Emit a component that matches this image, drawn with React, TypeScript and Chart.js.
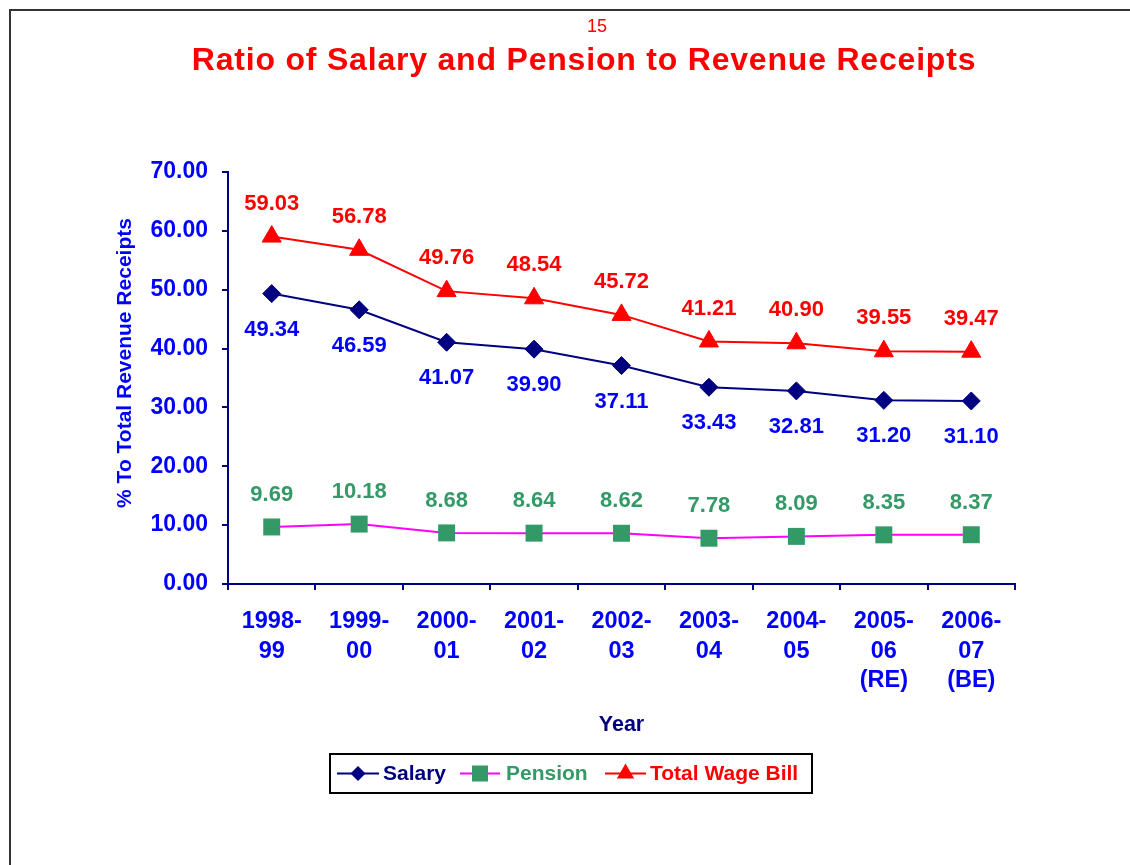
import React, { useEffect, useRef } from "react";
import { Chart, registerables } from "chart.js";

Chart.register(...registerables);

const categories: string[][] = [
  ["1998-", "99"],
  ["1999-", "00"],
  ["2000-", "01"],
  ["2001-", "02"],
  ["2002-", "03"],
  ["2003-", "04"],
  ["2004-", "05"],
  ["2005-", "06", "(RE)"],
  ["2006-", "07", "(BE)"],
];
const salary = [49.34, 46.59, 41.07, 39.9, 37.11, 33.43, 32.81, 31.2, 31.1];
const pension = [9.69, 10.18, 8.68, 8.64, 8.62, 7.78, 8.09, 8.35, 8.37];
const totalWageBill = [59.03, 56.78, 49.76, 48.54, 45.72, 41.21, 40.9, 39.55, 39.47];
const yMin = 0;
const yMax = 70;
const yStep = 10;

const chartTitle = "Ratio of Salary and Pension to Revenue Receipts";
const pageNumber = "15";
const yTitle = "% To Total Revenue Receipts";
const xTitle = "Year";

const FONT = '"Liberation Sans", Arial, Helvetica, sans-serif';
const NAVY = "#000080";
const BLUE = "#0000FF";
const GREEN = "#339966";
const MAGENTA = "#FF00FF";
const RED = "#FF0000";

// label colour / vertical offset for each dataset's value labels
const labelStyles = [
  { color: BLUE, offset: 36 },
  { color: GREEN, offset: -32 },
  { color: RED, offset: -33 },
];

const valueLabelPlugin = {
  id: "valueLabels",
  afterDatasetsDraw(chart: any) {
    const ctx = chart.ctx;
    chart.data.datasets.forEach((ds: any, i: number) => {
      const meta = chart.getDatasetMeta(i);
      const st = labelStyles[i];
      ctx.save();
      ctx.font = `bold 22px ${FONT}`;
      ctx.fillStyle = st.color;
      ctx.textAlign = "center";
      ctx.textBaseline = "middle";
      meta.data.forEach((el: any, j: number) => {
        ctx.fillText(Number(ds.data[j]).toFixed(2), el.x, el.y + st.offset);
      });
      ctx.restore();
    });
  },
};

function drawLegendSymbol(ctx: CanvasRenderingContext2D, ds: any, x0: number, x1: number, y: number) {
  ctx.save();
  ctx.strokeStyle = ds.borderColor;
  ctx.lineWidth = 2;
  ctx.beginPath();
  ctx.moveTo(x0, y);
  ctx.lineTo(x1, y);
  ctx.stroke();
  const cx = (x0 + x1) / 2;
  ctx.fillStyle = ds.pointBackgroundColor;
  ctx.strokeStyle = ds.pointBorderColor;
  ctx.beginPath();
  if (ds.pointStyle === "rectRot") {
    const r = 7.5;
    ctx.moveTo(cx - r, y);
    ctx.lineTo(cx, y - r);
    ctx.lineTo(cx + r, y);
    ctx.lineTo(cx, y + r);
  } else if (ds.pointStyle === "rect") {
    const s = 8;
    ctx.rect(cx - s, y - s, 2 * s, 2 * s);
  } else {
    const r = 10;
    ctx.moveTo(cx, y - r);
    ctx.lineTo(cx + 0.866 * r, y + 0.5 * r);
    ctx.lineTo(cx - 0.866 * r, y + 0.5 * r);
  }
  ctx.closePath();
  ctx.fill();
  ctx.restore();
}

const decorPlugin = {
  id: "decor",
  beforeDraw(chart: any) {
    const ctx = chart.ctx;
    ctx.save();
    ctx.fillStyle = "#ffffff";
    ctx.fillRect(0, 0, chart.width, chart.height);
    // outer frame (left and top edges)
    ctx.strokeStyle = "#333333";
    ctx.lineWidth = 2;
    ctx.beginPath();
    ctx.moveTo(10, chart.height);
    ctx.lineTo(10, 10);
    ctx.lineTo(chart.width, 10);
    ctx.stroke();
    ctx.restore();
  },
  afterDraw(chart: any) {
    const ctx = chart.ctx;
    const area = chart.chartArea;
    ctx.save();
    // page number
    ctx.fillStyle = RED;
    ctx.font = `18px ${FONT}`;
    ctx.textAlign = "center";
    ctx.textBaseline = "alphabetic";
    ctx.fillText(pageNumber, 597, 31.5);
    // title
    ctx.font = `bold 32px ${FONT}`;
    (ctx as any).letterSpacing = "0.8px";
    ctx.fillText(chartTitle, 584, 70);
    (ctx as any).letterSpacing = "0px";
    // y title
    ctx.save();
    ctx.translate(125, 363);
    ctx.rotate(-Math.PI / 2);
    ctx.fillStyle = BLUE;
    ctx.font = `bold 21px ${FONT}`;
    ctx.textBaseline = "middle";
    ctx.fillText(yTitle, 0, 0);
    ctx.restore();
    // x title
    ctx.fillStyle = NAVY;
    ctx.font = `bold 21.5px ${FONT}`;
    ctx.textBaseline = "alphabetic";
    ctx.fillText(xTitle, (area.left + area.right) / 2, 731);
    // legend
    const lx = 330, ly = 754, lw = 482, lh = 39;
    ctx.strokeStyle = "#000000";
    ctx.lineWidth = 2;
    ctx.strokeRect(lx, ly, lw, lh);
    const cy = ly + lh / 2;
    const items = [
      { x0: 337, x1: 379, tx: 383, color: NAVY },
      { x0: 460, x1: 500, tx: 506, color: GREEN },
      { x0: 605, x1: 646, tx: 650, color: RED },
    ];
    ctx.font = `bold 21px ${FONT}`;
    ctx.textAlign = "left";
    ctx.textBaseline = "middle";
    chart.data.datasets.forEach((ds: any, i: number) => {
      const it = items[i];
      drawLegendSymbol(ctx, ds, it.x0, it.x1, cy);
      ctx.fillStyle = it.color;
      ctx.fillText(ds.label, it.tx, cy + 1);
    });
    ctx.restore();
  },
};

export default function App() {
  const canvasRef = useRef<HTMLCanvasElement | null>(null);

  useEffect(() => {
    const canvas = canvasRef.current;
    if (!canvas) return;
    const chart = new Chart(canvas, {
      type: "line",
      data: {
        labels: categories,
        datasets: [
          {
            label: "Salary",
            data: salary,
            borderColor: NAVY,
            backgroundColor: NAVY,
            borderWidth: 2,
            pointStyle: "rectRot",
            pointRadius: 9,
            pointBackgroundColor: NAVY,
            pointBorderColor: NAVY,
            pointBorderWidth: 1,
            tension: 0,
          },
          {
            label: "Pension",
            data: pension,
            borderColor: MAGENTA,
            backgroundColor: GREEN,
            borderWidth: 2,
            pointStyle: "rect",
            pointRadius: 12,
            pointBackgroundColor: GREEN,
            pointBorderColor: GREEN,
            pointBorderWidth: 0,
            tension: 0,
          },
          {
            label: "Total Wage Bill",
            data: totalWageBill,
            borderColor: RED,
            backgroundColor: RED,
            borderWidth: 2,
            pointStyle: "triangle",
            pointRadius: 11,
            pointBackgroundColor: RED,
            pointBorderColor: RED,
            pointBorderWidth: 1,
            tension: 0,
          },
        ],
      },
      options: {
        animation: false,
        responsive: false,
        devicePixelRatio: 1,
        layout: { padding: { left: 0, top: 172, right: 115, bottom: 0 } },
        plugins: {
          legend: { display: false },
          title: { display: false },
          tooltip: { enabled: false },
        },
        scales: {
          x: {
            type: "category",
            offset: true,
            grid: {
              offset: true,
              drawOnChartArea: false,
              drawTicks: true,
              tickLength: 6,
              color: NAVY,
              lineWidth: 2,
            },
            border: { display: true, color: NAVY, width: 2 },
            ticks: {
              autoSkip: false,
              maxRotation: 0,
              minRotation: 0,
              padding: 17,
              color: BLUE,
              font: { family: FONT, size: 23.5, weight: "bold", lineHeight: 29.5 / 23.5 },
            },
            afterFit(scale: any) {
              scale.height = 281;
            },
          },
          y: {
            min: yMin,
            max: yMax,
            grid: {
              drawOnChartArea: false,
              drawTicks: true,
              tickLength: 6,
              color: NAVY,
              lineWidth: 2,
            },
            border: { display: true, color: NAVY, width: 2 },
            ticks: {
              stepSize: yStep,
              padding: 14,
              color: BLUE,
              font: { family: FONT, size: 23, weight: "bold" },
              callback: (v: any) => Number(v).toFixed(2),
            },
            afterFit(scale: any) {
              scale.width = 228;
            },
          },
        },
      } as any,
      plugins: [decorPlugin, valueLabelPlugin],
    });
    return () => chart.destroy();
  }, []);

  return (
    <div style={{ position: "absolute", left: 0, top: 0, width: 1130, height: 865 }}>
      <canvas ref={canvasRef} width={1130} height={865} style={{ width: 1130, height: 865, display: "block" }} />
    </div>
  );
}
